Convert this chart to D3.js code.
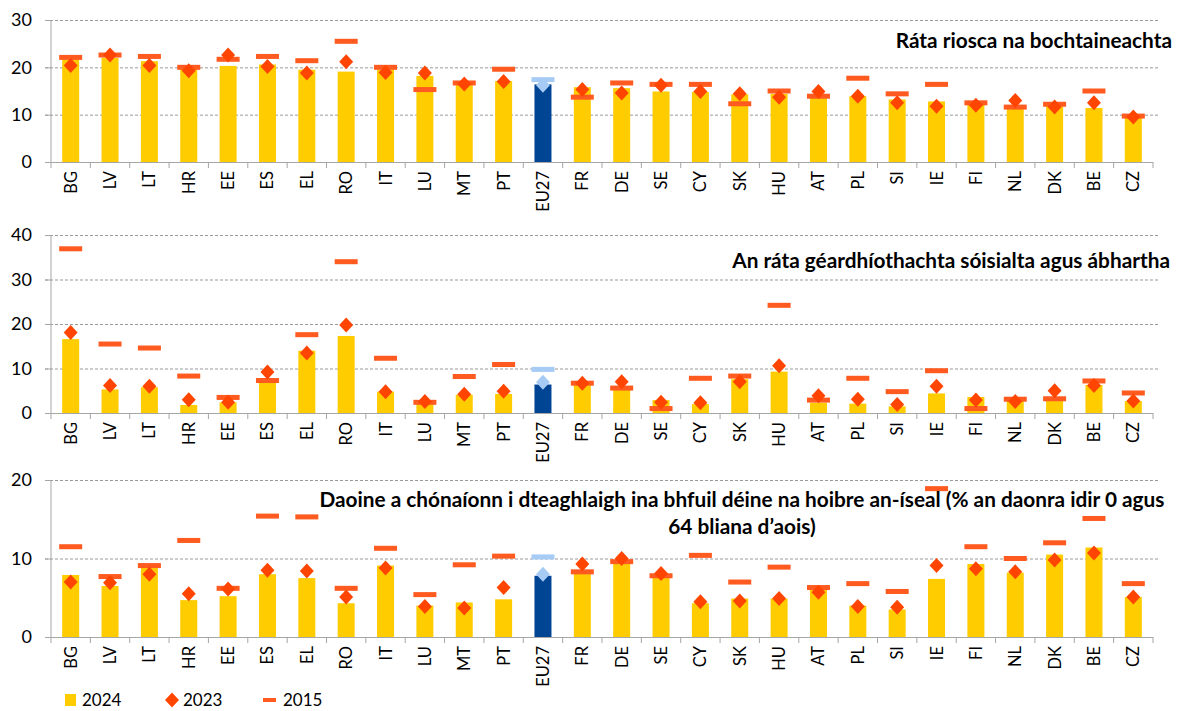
<!DOCTYPE html>
<html><head><meta charset="utf-8">
<script src="https://cdn.jsdelivr.net/npm/d3@7"></script>
<style>body{margin:0;background:#fff;} svg{display:block;font-family:Lato,"Open Sans",sans-serif;}</style>
</head><body><svg id="c" width="1184" height="711"></svg>
<script>
const categories = ["BG","LV","LT","HR","EE","ES","EL","RO","IT","LU","MT","PT","EU27","FR","DE","SE","CY","SK","HU","AT","PL","SI","IE","FI","NL","DK","BE","CZ"];

// Panel 1: at-risk-of-poverty rate
const pov2024 = [21.7,22.0,21.3,19.9,20.3,20.6,19.5,19.1,19.5,18.2,16.4,17.1,16.4,15.8,15.6,14.9,14.8,14.3,14.4,13.6,13.9,13.2,12.8,12.7,11.5,11.8,11.4,9.5];
const pov2023 = [20.4,22.6,20.4,19.3,22.6,20.2,18.8,21.2,18.9,18.8,16.5,17.0,16.2,15.3,14.6,16.2,14.9,14.4,13.7,14.9,13.9,12.5,11.8,12.0,13.0,11.6,12.5,9.5];
const pov2015 = [22.1,22.6,22.3,20.0,21.7,22.3,21.4,25.5,20.0,15.3,16.7,19.6,17.4,13.7,16.7,16.4,16.4,12.3,15.0,13.9,17.7,14.4,16.4,12.5,11.6,12.2,15.0,9.7];

// Panel 2: severe material and social deprivation rate
const dep2024 = [16.6,5.3,5.8,1.8,2.4,7.7,14.0,17.3,4.8,2.0,4.1,4.3,6.4,6.8,5.3,2.9,2.0,7.6,9.3,2.3,2.1,1.5,4.4,3.6,2.7,2.7,6.3,2.7];
const dep2023 = [18.1,6.2,6.0,3.0,2.4,9.2,13.5,19.8,4.8,2.6,4.2,4.9,6.9,6.7,7.0,2.4,2.3,7.0,10.6,3.9,3.1,1.9,6.0,2.9,2.6,5.0,6.2,2.7];
const dep2015 = [36.9,15.5,14.6,8.3,3.5,7.3,17.6,34.0,12.3,2.4,8.2,10.9,9.8,6.7,5.6,1.0,7.8,8.3,24.2,2.9,7.8,4.8,9.5,1.0,3.1,3.2,7.2,4.5];

// Panel 3: very low work intensity
const lwi2024 = [7.9,6.5,8.9,4.7,5.2,8.0,7.5,4.3,9.1,4.0,4.4,4.8,7.8,8.1,9.6,7.7,4.3,4.9,4.9,6.0,4.0,3.5,7.4,9.3,8.2,10.5,11.4,5.1];
const lwi2023 = [7.0,6.9,8.0,5.5,6.1,8.5,8.4,5.1,8.8,3.9,3.7,6.3,8.0,9.3,10.0,8.1,4.5,4.6,4.9,5.7,3.9,3.8,9.1,8.7,8.3,9.8,10.7,5.1];
const lwi2015 = [11.5,7.7,9.1,12.3,6.2,15.4,15.3,6.2,11.3,5.4,9.2,10.3,10.2,8.3,9.6,7.8,10.4,7.0,8.9,6.3,6.8,5.8,18.9,11.5,10.0,12.0,15.1,6.8];

const ticks1 = [0,10,20,30], ticks2 = [0,10,20,30,40], ticks3 = [0,10,20];
const titles1 = ["Ráta riosca na bochtaineachta"];
const titles2 = ["An ráta géardhíothachta sóisialta agus ábhartha"];
const titles3 = ["Daoine a chónaíonn i dteaghlaigh ina bhfuil déine na hoibre an-íseal (% an daonra idir 0 agus","64 bliana d’aois)"];
const legendLabels = ["2024","2023","2015"];

const C = {bar:"#FFCC00", eu:"#004494", dia:"#FF4500", dash:"#FF5A1F", euLight:"#A6CBF5", grid:"#999", axis:"#A6A6A6"};
const svg = d3.select("#c");
const x = d3.scaleBand().domain(categories).range([51,1153]).paddingInner(0).paddingOuter(0);

const panels = [
  {v24:pov2024,v23:pov2023,v15:pov2015,ticks:ticks1,top:20,bottom:162,title:titles1,tx:1172,ty:48,anchor:"end"},
  {v24:dep2024,v23:dep2023,v15:dep2015,ticks:ticks2,top:235,bottom:413,title:titles2,tx:1170,ty:268,anchor:"end"},
  {v24:lwi2024,v23:lwi2023,v15:lwi2015,ticks:ticks3,top:480,bottom:637,title:titles3,tx:742,ty:507,anchor:"middle"}
];

const bw = 17, dw = 23, dh = 5, ds = 7.5;
panels.forEach(p=>{
  const y = d3.scaleLinear().domain([0,d3.max(p.ticks)]).range([p.bottom,p.top]);
  const g = svg.append("g");
  g.selectAll(".gl").data(p.ticks.filter(t=>t>0)).join("line")
    .attr("x1",45).attr("x2",1158).attr("y1",d=>y(d)+0.5).attr("y2",d=>y(d)+0.5)
    .attr("stroke",C.grid).attr("stroke-dasharray","3,2").attr("stroke-width",1);
  const ya = d3.axisLeft(y).tickValues(p.ticks).tickSize(6).tickFormat(d3.format("d"));
  const yg = g.append("g").attr("transform","translate(51,0)").call(ya);
  yg.select(".domain").attr("stroke",C.axis).attr("d",`M0,${p.top}V${p.bottom}`);
  yg.selectAll(".tick line").attr("stroke",C.axis);
  yg.selectAll(".tick text").attr("x",-19).attr("font-size",18).attr("fill","#000").attr("font-family","Lato,'Open Sans',sans-serif");
  g.append("line").attr("x1",51).attr("x2",1153).attr("y1",p.bottom+0.5).attr("y2",p.bottom+0.5).attr("stroke",C.axis).attr("stroke-width",1.2);
  g.selectAll(".xt").data(d3.range(categories.length+1)).join("line")
    .attr("x1",i=>51+i*x.bandwidth()).attr("x2",i=>51+i*x.bandwidth())
    .attr("y1",p.bottom).attr("y2",p.bottom+6).attr("stroke",C.axis);
  g.selectAll(".xl").data(categories).join("text")
    .attr("transform",d=>`translate(${x(d)+x.bandwidth()/2+6},${p.bottom+9}) rotate(-90)`)
    .attr("text-anchor","end").attr("font-size",16.5).attr("fill","#000").text(d=>d);
  g.selectAll(".bar").data(categories).join("rect")
    .attr("x",d=>x(d)+x.bandwidth()/2-bw/2).attr("width",bw)
    .attr("y",(d,i)=>y(p.v24[i])).attr("height",(d,i)=>p.bottom-y(p.v24[i]))
    .attr("fill",d=>d==="EU27"?C.eu:C.bar);
  g.selectAll(".dash").data(categories).join("rect")
    .attr("x",d=>x(d)+x.bandwidth()/2-dw/2).attr("width",dw)
    .attr("y",(d,i)=>y(p.v15[i])-dh/2).attr("height",dh)
    .attr("fill",d=>d==="EU27"?C.euLight:C.dash);
  g.selectAll(".dia").data(categories).join("path")
    .attr("d",(d,i)=>{const cx=x(d)+x.bandwidth()/2, cy=y(p.v23[i]); return `M${cx},${cy-ds}L${cx+ds*0.93},${cy}L${cx},${cy+ds}L${cx-ds*0.93},${cy}Z`;})
    .attr("fill",d=>d==="EU27"?C.euLight:C.dia);
  const t = g.append("text").attr("text-anchor",p.anchor).attr("font-weight","bold").attr("font-size",20.8).attr("fill","#000");
  p.title.forEach((s,i)=>t.append("tspan").attr("x",p.tx).attr("y",p.ty+i*27).text(s));
});

const lg = svg.append("g");
const ly = 700;
lg.append("rect").attr("x",65).attr("y",ly-6).attr("width",11).attr("height",12).attr("fill",C.bar);
lg.append("text").attr("x",82).attr("y",ly+6).attr("font-size",17).text(legendLabels[0]);
lg.append("path").attr("d",`M172,${ly-7.5}L179,${ly}L172,${ly+7.5}L165,${ly}Z`).attr("fill",C.dia);
lg.append("text").attr("x",183).attr("y",ly+6).attr("font-size",17).text(legendLabels[1]);
lg.append("rect").attr("x",263).attr("y",ly-2).attr("width",13).attr("height",4).attr("fill",C.dash);
lg.append("text").attr("x",283).attr("y",ly+6).attr("font-size",17).text(legendLabels[2]);
</script></body></html>
